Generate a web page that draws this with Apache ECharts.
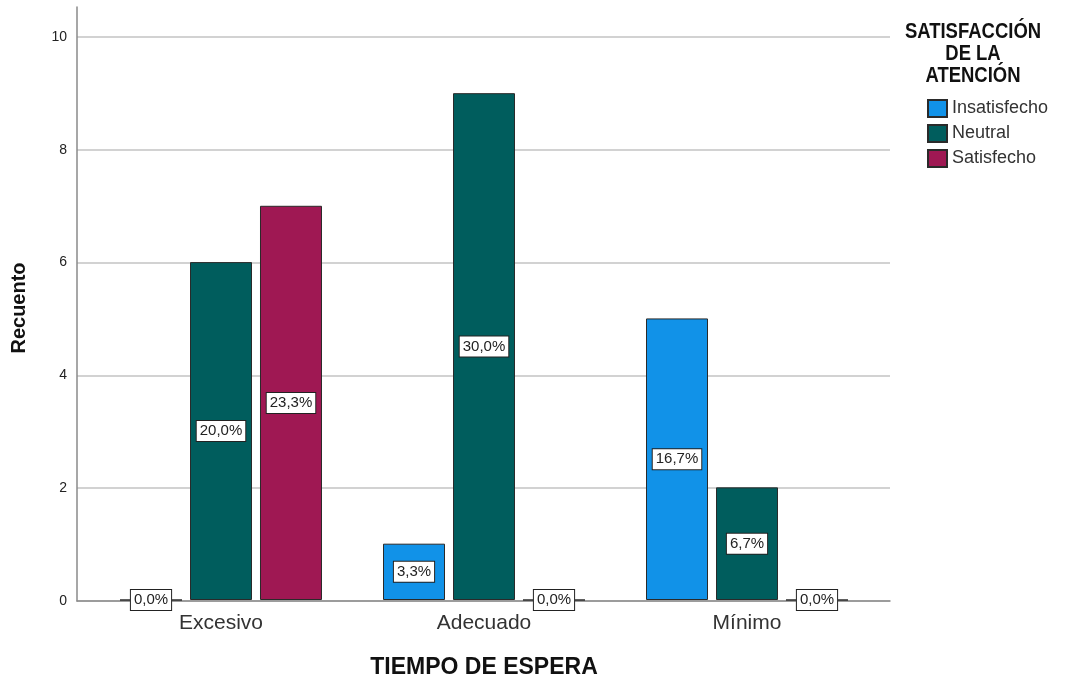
<!DOCTYPE html>
<html>
<head>
<meta charset="utf-8">
<script src="https://cdn.jsdelivr.net/npm/echarts@6/dist/echarts.min.js"></script>
<style>html,body{margin:0;padding:0;background:#fff}#c{width:1082px;height:684px}</style>
</head>
<body>
<div id="c"></div>
<script>
var categories = ['Excesivo', 'Adecuado', 'Mínimo'];
var seriesNames = ['Insatisfecho', 'Neutral', 'Satisfecho'];
var insatisfecho = [0, 1, 5];
var neutral = [6, 9, 2];
var satisfecho = [7, 0, 0];
var insatisfechoLabels = ['0,0%', '3,3%', '16,7%'];
var neutralLabels = ['20,0%', '30,0%', '6,7%'];
var satisfechoLabels = ['23,3%', '0,0%', '0,0%'];
var yTicks = [0, 2, 4, 6, 8, 10];

var FONT = 'Liberation Sans, Arial, sans-serif';
var colors = ['#1192e8', '#005d5d', '#9f1853'];
var YMAX = 10.53;

function mkSeries(name, values, labels, color) {
  return {
    name: name,
    type: 'bar',
    xAxisIndex: 0,
    yAxisIndex: 0,
    barWidth: 62,
    barGap: '12.9%',
    data: values,
    itemStyle: { color: color, borderColor: '#2a2a2a', borderWidth: 1 },
    label: {
      show: true,
      position: 'inside',
      formatter: function (p) { return labels[p.dataIndex]; },
      backgroundColor: '#ffffff',
      borderColor: '#222',
      borderWidth: 1,
      padding: [3, 3, 2, 3],
      color: '#222',
      fontFamily: FONT,
      fontSize: 15
    },
    emphasis: { disabled: true }
  };
}

var chart = echarts.init(document.getElementById('c'), null, { renderer: 'canvas' });
chart.setOption({
  animation: false,
  grid: [
    { left: 89.5, right: 203.5, top: 7, bottom: 83 },
    { left: 77, right: 192, top: 7, bottom: 83 }
  ],
  xAxis: [
    {
      type: 'category', gridIndex: 0, data: categories,
      axisLine: { show: false }, axisTick: { show: false },
      axisLabel: { color: '#333', fontFamily: FONT, fontSize: 21, margin: 13 },
      name: 'TIEMPO DE ESPERA', nameLocation: 'middle', nameGap: 56,
      nameTextStyle: { color: '#111', fontFamily: FONT, fontSize: 23, fontWeight: 'bold' }
    },
    {
      type: 'value', gridIndex: 1, min: 0, max: 1,
      axisLine: { show: true, lineStyle: { color: '#8a8a8a', width: 1.5 } },
      axisTick: { show: false }, axisLabel: { show: false }, splitLine: { show: false }
    }
  ],
  yAxis: [
    {
      type: 'value', gridIndex: 0, min: 0, max: YMAX, show: false,
      splitLine: { show: false }
    },
    {
      type: 'value', gridIndex: 1, min: 0, max: YMAX, interval: 2,
      axisLine: { show: true, lineStyle: { color: '#8a8a8a', width: 1.5 } },
      axisTick: { show: false },
      axisLabel: {
        color: '#222', fontFamily: FONT, fontSize: 14, margin: 10,
        formatter: function (v) { return yTicks.indexOf(v) >= 0 ? String(v) : ''; }
      },
      splitLine: { show: true, showMaxLine: false, lineStyle: { color: '#d2d2d2', width: 2 } },
      name: 'Recuento', nameLocation: 'middle', nameGap: 48, nameRotate: 90,
      nameTextStyle: { color: '#111', fontFamily: FONT, fontSize: 20, fontWeight: 'bold', padding: [0, 8, 0, 0] }
    }
  ],
  legend: {
    orient: 'vertical',
    left: 927, top: 99, padding: 0,
    itemWidth: 19, itemHeight: 17, itemGap: 6,
    icon: 'rect',
    data: seriesNames,
    selectedMode: false,
    textStyle: { color: '#333', fontFamily: FONT, fontSize: 18 }
  },
  graphic: [
    {
      type: 'text', x: 973, y: 21, scaleX: 0.84,
      style: {
        text: 'SATISFACCIÓN\nDE LA\nATENCIÓN',
        textAlign: 'center', align: 'center', lineHeight: 22,
        fill: '#111', font: 'bold 22px ' + FONT
      }
    }
  ],
  series: [
    mkSeries(seriesNames[0], insatisfecho, insatisfechoLabels, colors[0]),
    mkSeries(seriesNames[1], neutral, neutralLabels, colors[1]),
    mkSeries(seriesNames[2], satisfecho, satisfechoLabels, colors[2])
  ]
});
</script>
</body>
</html>
